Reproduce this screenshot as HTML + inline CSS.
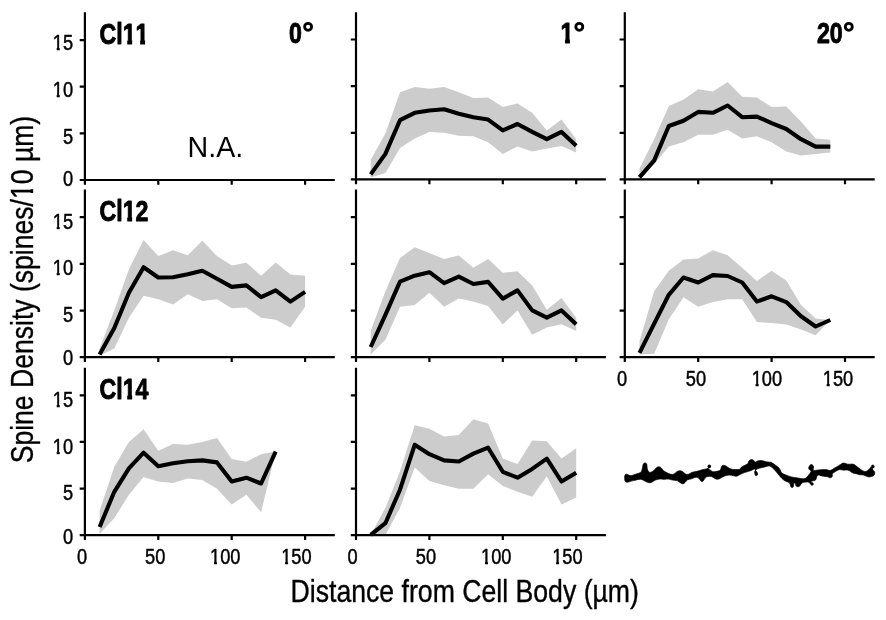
<!DOCTYPE html>
<html><head><meta charset="utf-8"><title>Spine density</title>
<style>
html,body{margin:0;padding:0;background:#fff;}
svg{display:block;}
text{font-family:"Liberation Sans",sans-serif;fill:#000;font-kerning:none;}
svg{will-change:transform;}
.ax{stroke:#000;stroke-width:2.2;fill:none;stroke-linecap:butt;}
.ln{stroke:#000;stroke-width:4.1;fill:none;stroke-linejoin:round;stroke-linecap:butt;}
.bd{fill:#cccccc;stroke:none;}
</style></head><body>
<svg width="886" height="620" viewBox="0 0 886 620">
<rect width="886" height="620" fill="#fff"/>
<defs><clipPath id="k0"><path d="M-2 -22.80H14.68V-2.75H8.60V1.05H4.88V-2.75H-2Z"/></clipPath><clipPath id="k1"><path d="M-2 -29.00H18.13V-4.21H11.80V1.25H5.72V-4.21H-2Z"/></clipPath><clipPath id="k2"><path d="M-2 -30.50H18.96V-3.25H11.14V0.98H6.89V-3.25H-2Z"/></clipPath></defs>

<polygon class="bd" points="370.7,159.8 385.4,133.4 400.0,92.3 414.7,87.0 429.4,88.8 444.1,87.0 458.8,92.3 473.4,98.1 488.1,97.6 502.8,107.0 517.5,103.4 532.2,112.8 546.8,130.4 561.5,119.6 576.2,139.2 576.2,152.4 561.5,146.0 546.8,148.6 532.2,151.6 517.5,146.6 502.8,153.9 488.1,142.2 473.4,136.3 458.8,135.7 444.1,132.8 429.4,131.9 414.7,138.6 400.0,148.0 385.4,173.0 370.7,177.4"/>
<polygon class="bd" points="639.5,168.6 654.2,139.2 668.8,106.1 683.5,99.6 698.2,89.3 712.9,91.4 727.6,82.0 742.2,96.7 756.9,97.6 771.6,107.0 786.3,106.4 801.0,121.6 815.6,138.6 830.3,139.8 830.3,152.4 815.6,153.9 801.0,155.4 786.3,151.6 771.6,142.2 756.9,136.3 742.2,138.6 727.6,129.8 712.9,134.8 698.2,134.8 683.5,142.2 668.8,146.6 654.2,164.2 639.5,178.8"/>
<polygon class="bd" points="99.6,348.5 114.3,310.4 128.9,269.3 143.6,239.9 158.3,256.1 173.0,250.2 187.7,255.2 202.3,240.8 217.0,256.1 231.7,265.5 246.4,262.8 261.1,275.7 275.7,262.5 290.4,274.6 305.1,275.7 305.1,306.8 290.4,327.4 275.7,319.8 261.1,317.7 246.4,307.4 231.7,308.3 217.0,299.2 202.3,301.0 187.7,294.2 173.0,304.5 158.3,299.2 143.6,295.7 128.9,317.7 114.3,348.5 99.6,355.8"/>
<polygon class="bd" points="370.7,330.9 385.4,291.3 400.0,258.1 414.7,247.3 429.4,253.1 444.1,259.0 458.8,255.5 473.4,267.8 488.1,259.0 502.8,272.8 517.5,271.3 532.2,285.4 546.8,309.8 561.5,298.0 576.2,317.7 576.2,330.9 561.5,324.2 546.8,327.4 532.2,334.7 517.5,310.4 502.8,324.4 488.1,306.0 473.4,301.6 458.8,298.6 444.1,306.8 429.4,292.8 414.7,305.1 400.0,306.8 385.4,339.7 370.7,354.4"/>
<polygon class="bd" points="639.5,341.2 654.2,291.3 668.8,270.7 683.5,259.6 698.2,258.4 712.9,250.2 727.6,255.2 742.2,267.8 756.9,281.0 771.6,270.7 786.3,280.4 801.0,305.1 815.6,318.6 830.3,320.0 830.3,320.0 815.6,335.3 801.0,329.4 786.3,324.4 771.6,323.0 756.9,322.1 742.2,299.2 727.6,299.2 712.9,302.1 698.2,306.8 683.5,297.2 668.8,319.2 654.2,353.8 639.5,354.4"/>
<polygon class="bd" points="99.6,510.8 114.3,466.8 128.9,441.9 143.6,429.3 158.3,450.7 173.0,443.9 187.7,444.8 202.3,441.9 217.0,438.1 231.7,458.9 246.4,461.8 261.1,454.2 275.7,451.6 275.7,451.6 261.1,512.3 246.4,494.7 231.7,504.4 217.0,488.8 202.3,480.0 187.7,478.6 173.0,483.0 158.3,481.5 143.6,477.1 128.9,494.7 114.3,518.2 99.6,533.7"/>
<polygon class="bd" points="370.7,534.9 385.4,507.9 400.0,471.2 414.7,425.2 429.4,428.7 444.1,436.6 458.8,435.1 473.4,419.3 488.1,423.4 502.8,458.6 517.5,463.9 532.2,440.4 546.8,441.3 561.5,458.6 576.2,448.3 576.2,497.6 561.5,504.4 546.8,476.2 532.2,496.8 517.5,491.8 502.8,485.9 488.1,474.2 473.4,488.8 458.8,488.8 444.1,485.3 429.4,480.9 414.7,467.4 400.0,507.9 385.4,534.9 370.7,534.9"/>
<polyline class="ln" points="370.7,174.4 385.4,153.9 400.0,120.2 414.7,112.8 429.4,110.5 444.1,109.3 458.8,113.7 473.4,117.2 488.1,119.6 502.8,130.4 517.5,124.0 532.2,131.9 546.8,139.2 561.5,131.9 576.2,145.7"/>
<polyline class="ln" points="639.5,177.4 654.2,160.4 668.8,126.0 683.5,120.7 698.2,111.9 712.9,112.8 727.6,105.5 742.2,117.2 756.9,116.6 771.6,123.1 786.3,129.0 801.0,139.2 815.6,146.6 830.3,146.6"/>
<polyline class="ln" points="99.6,354.4 114.3,328.0 128.9,292.8 143.6,267.2 158.3,277.5 173.0,277.2 187.7,274.3 202.3,270.7 217.0,278.7 231.7,286.9 246.4,285.4 261.1,297.2 275.7,290.4 290.4,301.6 305.1,291.9"/>
<polyline class="ln" points="370.7,347.0 385.4,314.8 400.0,281.6 414.7,275.7 429.4,272.2 444.1,283.1 458.8,276.6 473.4,284.0 488.1,281.9 502.8,298.6 517.5,290.4 532.2,310.4 546.8,317.7 561.5,310.4 576.2,324.2"/>
<polyline class="ln" points="639.5,352.9 654.2,323.6 668.8,294.8 683.5,277.5 698.2,282.5 712.9,275.1 727.6,276.0 742.2,282.5 756.9,301.6 771.6,296.3 786.3,302.1 801.0,316.2 815.6,326.5 830.3,320.0"/>
<polyline class="ln" points="99.6,527.0 114.3,491.8 128.9,468.3 143.6,452.7 158.3,466.2 173.0,463.3 187.7,461.2 202.3,460.4 217.0,462.4 231.7,481.5 246.4,477.7 261.1,483.5 275.7,451.6"/>
<polyline class="ln" points="370.7,534.9 385.4,523.2 400.0,489.7 414.7,444.8 429.4,454.2 444.1,460.4 458.8,461.5 473.4,453.6 488.1,447.7 502.8,471.8 517.5,477.7 532.2,468.9 546.8,458.6 561.5,481.5 576.2,472.7"/>
<path class="ax" d="M84.9 12.2V184.8M79.7 180.0H334.8M84.9 133.3h-5.2M84.9 86.7h-5.2M84.9 40.1h-5.2M158.3 180.0v4.8M231.7 180.0v4.8M305.1 180.0v4.8"/>
<path class="ax" d="M356.0 12.2V184.2M350.8 179.4H605.9M356.0 132.8h-5.2M356.0 86.1h-5.2M356.0 39.5h-5.2M429.4 179.4v4.8M502.8 179.4v4.8M576.2 179.4v4.8"/>
<path class="ax" d="M624.8 12.2V184.2M619.6 179.4H874.7M624.8 132.8h-5.2M624.8 86.1h-5.2M624.8 39.5h-5.2M698.2 179.4v4.8M771.6 179.4v4.8M845.0 179.4v4.8"/>
<path class="ax" d="M84.9 189.5V362.0M79.7 357.2H334.8M84.9 310.6h-5.2M84.9 263.9h-5.2M84.9 217.2h-5.2M158.3 357.2v4.8M231.7 357.2v4.8M305.1 357.2v4.8"/>
<path class="ax" d="M356.0 189.5V362.0M350.8 357.2H605.9M356.0 310.6h-5.2M356.0 263.9h-5.2M356.0 217.2h-5.2M429.4 357.2v4.8M502.8 357.2v4.8M576.2 357.2v4.8"/>
<path class="ax" d="M624.8 189.5V362.0M619.6 357.2H874.7M624.8 310.6h-5.2M624.8 263.9h-5.2M624.8 217.2h-5.2M698.2 357.2v4.8M771.6 357.2v4.8M845.0 357.2v4.8"/>
<path class="ax" d="M84.9 367.8V540.0M79.7 535.2H334.8M84.9 488.6h-5.2M84.9 441.9h-5.2M84.9 395.3h-5.2M158.3 535.2v4.8M231.7 535.2v4.8M305.1 535.2v4.8"/>
<path class="ax" d="M356.0 367.8V540.0M350.8 535.2H605.9M356.0 488.6h-5.2M356.0 441.9h-5.2M356.0 395.3h-5.2M429.4 535.2v4.8M502.8 535.2v4.8M576.2 535.2v4.8"/>
<g transform="translate(73.10 186.40) scale(0.800 1)" font-size="22.80" font-weight="normal" stroke="#000" stroke-width="0.50" stroke-linejoin="round"><text x="-12.68" y="0">0</text></g>
<g transform="translate(73.10 143.55) scale(0.800 1)" font-size="22.80" font-weight="normal" stroke="#000" stroke-width="0.50" stroke-linejoin="round"><text x="-12.68" y="0">5</text></g>
<g transform="translate(73.10 96.90) scale(0.800 1)" font-size="22.80" font-weight="normal" stroke="#000" stroke-width="0.50" stroke-linejoin="round"><text transform="translate(-25.36 0)" clip-path="url(#k0)">1</text><text x="-12.68" y="0">0</text></g>
<g transform="translate(73.10 50.25) scale(0.800 1)" font-size="22.80" font-weight="normal" stroke="#000" stroke-width="0.50" stroke-linejoin="round"><text transform="translate(-25.36 0)" clip-path="url(#k0)">1</text><text x="-12.68" y="0">5</text></g>
<g transform="translate(73.10 364.80) scale(0.800 1)" font-size="22.80" font-weight="normal" stroke="#000" stroke-width="0.50" stroke-linejoin="round"><text x="-12.68" y="0">0</text></g>
<g transform="translate(73.10 321.95) scale(0.800 1)" font-size="22.80" font-weight="normal" stroke="#000" stroke-width="0.50" stroke-linejoin="round"><text x="-12.68" y="0">5</text></g>
<g transform="translate(73.10 275.30) scale(0.800 1)" font-size="22.80" font-weight="normal" stroke="#000" stroke-width="0.50" stroke-linejoin="round"><text transform="translate(-25.36 0)" clip-path="url(#k0)">1</text><text x="-12.68" y="0">0</text></g>
<g transform="translate(73.10 228.65) scale(0.800 1)" font-size="22.80" font-weight="normal" stroke="#000" stroke-width="0.50" stroke-linejoin="round"><text transform="translate(-25.36 0)" clip-path="url(#k0)">1</text><text x="-12.68" y="0">5</text></g>
<g transform="translate(73.10 543.50) scale(0.800 1)" font-size="22.80" font-weight="normal" stroke="#000" stroke-width="0.50" stroke-linejoin="round"><text x="-12.68" y="0">0</text></g>
<g transform="translate(73.10 500.45) scale(0.800 1)" font-size="22.80" font-weight="normal" stroke="#000" stroke-width="0.50" stroke-linejoin="round"><text x="-12.68" y="0">5</text></g>
<g transform="translate(73.10 453.80) scale(0.800 1)" font-size="22.80" font-weight="normal" stroke="#000" stroke-width="0.50" stroke-linejoin="round"><text transform="translate(-25.36 0)" clip-path="url(#k0)">1</text><text x="-12.68" y="0">0</text></g>
<g transform="translate(73.10 407.15) scale(0.800 1)" font-size="22.80" font-weight="normal" stroke="#000" stroke-width="0.50" stroke-linejoin="round"><text transform="translate(-25.36 0)" clip-path="url(#k0)">1</text><text x="-12.68" y="0">5</text></g>
<g transform="translate(77.00 564.20) scale(0.800 1)" font-size="22.80" font-weight="normal" stroke="#000" stroke-width="0.50" stroke-linejoin="round"><text x="0.00" y="0">0</text></g>
<g transform="translate(145.10 564.20) scale(0.800 1)" font-size="22.80" font-weight="normal" stroke="#000" stroke-width="0.50" stroke-linejoin="round"><text x="0.00" y="0">50</text></g>
<g transform="translate(210.10 564.20) scale(0.800 1)" font-size="22.80" font-weight="normal" stroke="#000" stroke-width="0.50" stroke-linejoin="round"><text transform="translate(0.00 0)" clip-path="url(#k0)">1</text><text x="12.68" y="0">00</text></g>
<g transform="translate(281.20 564.20) scale(0.800 1)" font-size="22.80" font-weight="normal" stroke="#000" stroke-width="0.50" stroke-linejoin="round"><text transform="translate(0.00 0)" clip-path="url(#k0)">1</text><text x="12.68" y="0">50</text></g>
<g transform="translate(347.60 564.20) scale(0.800 1)" font-size="22.80" font-weight="normal" stroke="#000" stroke-width="0.50" stroke-linejoin="round"><text x="0.00" y="0">0</text></g>
<g transform="translate(415.80 564.20) scale(0.800 1)" font-size="22.80" font-weight="normal" stroke="#000" stroke-width="0.50" stroke-linejoin="round"><text x="0.00" y="0">50</text></g>
<g transform="translate(481.10 564.20) scale(0.800 1)" font-size="22.80" font-weight="normal" stroke="#000" stroke-width="0.50" stroke-linejoin="round"><text transform="translate(0.00 0)" clip-path="url(#k0)">1</text><text x="12.68" y="0">00</text></g>
<g transform="translate(552.20 564.20) scale(0.800 1)" font-size="22.80" font-weight="normal" stroke="#000" stroke-width="0.50" stroke-linejoin="round"><text transform="translate(0.00 0)" clip-path="url(#k0)">1</text><text x="12.68" y="0">50</text></g>
<g transform="translate(617.00 386.20) scale(0.800 1)" font-size="22.80" font-weight="normal" stroke="#000" stroke-width="0.50" stroke-linejoin="round"><text x="0.00" y="0">0</text></g>
<g transform="translate(685.80 386.20) scale(0.800 1)" font-size="22.80" font-weight="normal" stroke="#000" stroke-width="0.50" stroke-linejoin="round"><text x="0.00" y="0">50</text></g>
<g transform="translate(751.70 386.20) scale(0.800 1)" font-size="22.80" font-weight="normal" stroke="#000" stroke-width="0.50" stroke-linejoin="round"><text transform="translate(0.00 0)" clip-path="url(#k0)">1</text><text x="12.68" y="0">00</text></g>
<g transform="translate(822.80 386.20) scale(0.800 1)" font-size="22.80" font-weight="normal" stroke="#000" stroke-width="0.50" stroke-linejoin="round"><text transform="translate(0.00 0)" clip-path="url(#k0)">1</text><text x="12.68" y="0">50</text></g>
<g transform="translate(99.50 43.70) scale(0.800 1)" font-size="29.00" font-weight="bold" stroke="#000" stroke-width="0.90" stroke-linejoin="round"><text x="0.00" y="0">Cl</text><text transform="translate(29.00 0)" clip-path="url(#k1)">1</text><text transform="translate(45.13 0)" clip-path="url(#k1)">1</text></g>
<g transform="translate(99.50 220.80) scale(0.800 1)" font-size="29.00" font-weight="bold" stroke="#000" stroke-width="0.90" stroke-linejoin="round"><text x="0.00" y="0">Cl</text><text transform="translate(29.00 0)" clip-path="url(#k1)">1</text><text x="45.13" y="0">2</text></g>
<g transform="translate(99.50 399.20) scale(0.800 1)" font-size="29.00" font-weight="bold" stroke="#000" stroke-width="0.90" stroke-linejoin="round"><text x="0.00" y="0">Cl</text><text transform="translate(29.00 0)" clip-path="url(#k1)">1</text><text x="45.13" y="0">4</text></g>
<g transform="translate(302.00 43.20) scale(0.800 1)" font-size="29.00" font-weight="bold" stroke="#000" stroke-width="0.90" stroke-linejoin="round"><text x="-16.13" y="0">0</text></g>
<g transform="translate(573.40 43.20) scale(0.800 1)" font-size="29.00" font-weight="bold" stroke="#000" stroke-width="0.90" stroke-linejoin="round"><text transform="translate(-16.13 0)" clip-path="url(#k1)">1</text></g>
<g transform="translate(842.70 43.20) scale(0.800 1)" font-size="29.00" font-weight="bold" stroke="#000" stroke-width="0.90" stroke-linejoin="round"><text x="-32.26" y="0">20</text></g>
<circle cx="308.1" cy="26.8" r="3.5" fill="none" stroke="#000" stroke-width="2.8"/>
<circle cx="579.3" cy="26.8" r="3.5" fill="none" stroke="#000" stroke-width="2.8"/>
<circle cx="848.8" cy="26.8" r="3.5" fill="none" stroke="#000" stroke-width="2.8"/>
<text transform="translate(187.6 156.8) scale(0.955 1)" font-size="30" stroke="none">N.A.</text>
<g transform="translate(290.50 601.80) scale(0.874 1)" font-size="30.50" font-weight="normal" stroke="#000" stroke-width="0.35" stroke-linejoin="round"><text x="0.00" y="0">Distance from Cell Body (µm)</text></g>
<g transform="translate(33.30 463.30) rotate(-90) scale(0.871 1)" font-size="30.50" font-weight="normal" stroke="#000" stroke-width="0.35" stroke-linejoin="round"><text x="0.00" y="0">Spine Density (spines/</text><text transform="translate(303.45 0)" clip-path="url(#k2)">1</text><text x="320.41" y="0">0 µm)</text></g>
<path d="M624.6 477.7Q624.6 474.0 626.1 474.2Q627.6 474.4 629.2 475.3Q630.8 476.3 633.2 475.1Q635.5 474.0 638.3 473.4Q641.1 472.8 641.7 471.0Q642.3 469.2 642.7 466.5Q643.0 463.7 644.0 463.2Q645.0 462.7 646.0 463.2Q647.0 463.7 647.0 466.1Q647.0 468.4 647.6 470.0Q648.2 471.6 649.4 472.2Q650.6 472.8 652.5 471.6Q654.5 470.4 655.3 469.0Q656.1 467.6 657.7 467.0Q659.2 466.5 660.4 467.2Q661.6 468.0 662.4 469.4Q663.2 470.8 665.2 471.8Q667.1 472.8 668.7 473.6Q670.3 474.4 672.3 474.4Q674.3 474.4 675.4 473.0Q676.6 471.6 678.2 471.0Q679.8 470.4 681.4 471.0Q682.9 471.6 684.0 472.8Q685.0 474.0 686.6 474.4Q688.2 474.8 690.1 473.4Q692.1 472.0 694.5 471.8Q696.9 471.6 699.6 470.6Q702.4 469.6 704.4 469.3Q706.3 469.1 707.1 468.5Q707.9 468.0 709.5 469.4Q711.1 470.8 712.3 471.4Q713.4 472.0 715.8 471.6Q718.2 471.2 719.6 470.6Q720.9 470.0 721.1 468.0Q721.3 466.1 722.5 465.5Q723.7 464.9 725.3 465.7Q726.9 466.5 728.5 467.8Q730.0 469.2 732.8 469.4Q735.6 469.6 737.9 469.6Q740.3 469.6 740.7 468.2Q741.1 466.9 743.5 465.9Q745.8 464.9 747.0 464.3Q748.2 463.7 748.4 462.3Q748.6 460.9 750.0 460.0Q751.4 459.1 752.7 459.8Q754.1 460.5 754.6 461.5Q755.0 462.5 756.6 461.5Q758.2 460.5 760.1 460.5Q762.1 460.4 764.1 461.2Q766.1 462.1 768.4 462.0Q770.8 462.0 772.4 463.0Q774.0 464.1 775.9 465.5Q777.9 466.9 779.1 468.2Q780.3 469.6 780.7 471.2Q781.1 472.8 783.0 473.8Q785.0 474.8 788.2 475.9Q791.3 477.1 794.5 477.5Q797.7 477.9 800.8 478.5Q804.0 479.1 805.2 478.5Q806.4 477.9 808.3 475.5Q810.3 473.2 810.9 472.0Q811.5 470.8 810.5 470.4Q809.5 470.0 808.9 469.0Q808.3 468.0 809.3 466.3Q810.3 464.5 811.1 464.4Q811.9 464.3 812.9 465.4Q813.9 466.5 813.3 468.4Q812.7 470.4 813.9 470.4Q815.0 470.4 816.6 470.2Q818.2 470.0 820.2 469.8Q822.2 469.6 824.6 469.5Q827.1 469.5 828.6 470.3Q830.2 471.2 832.2 469.6Q834.2 468.0 836.5 466.9Q838.9 465.7 840.5 464.5Q842.1 463.3 843.3 463.1Q844.4 462.9 846.0 463.7Q847.6 464.5 850.4 464.2Q853.1 463.8 854.3 464.6Q855.5 465.3 857.1 466.7Q858.7 468.0 860.6 469.4Q862.6 470.8 864.2 471.4Q865.8 472.0 867.4 470.8Q868.9 469.6 870.1 468.2Q871.3 466.9 871.5 466.1Q871.7 465.3 872.5 465.1Q873.3 464.9 874.0 465.7Q874.6 466.5 874.1 467.2Q873.7 468.0 872.9 468.2Q872.1 468.4 872.7 469.4Q873.3 470.4 874.1 471.2Q874.9 472.0 874.7 473.4Q874.6 474.8 873.8 475.5Q872.9 476.2 871.3 476.6Q869.7 477.1 868.1 476.8Q866.6 476.5 865.0 475.6Q863.4 474.8 861.4 474.8Q859.5 474.9 857.9 474.2Q856.3 473.6 854.7 473.4Q853.1 473.2 851.9 472.4Q850.8 471.6 849.2 470.6Q847.6 469.6 845.6 470.0Q843.7 470.4 841.7 469.8Q839.7 469.2 837.7 470.2Q835.8 471.2 833.8 472.6Q831.8 474.0 832.2 474.8Q832.6 475.5 832.2 476.5Q831.8 477.5 830.6 477.7Q829.4 477.9 828.6 477.3Q827.9 476.7 826.3 476.6Q824.7 476.5 823.5 476.2Q822.3 475.9 820.3 475.3Q818.4 474.8 821.1 475.5Q823.7 476.3 822.6 475.7Q821.4 475.1 819.4 474.9Q817.4 474.8 817.0 475.9Q816.6 477.1 816.2 478.7Q815.8 480.3 814.7 480.5Q813.5 480.7 811.9 481.1Q810.3 481.5 811.7 482.3Q813.1 483.0 813.3 483.8Q813.5 484.6 812.7 485.1Q811.9 485.7 811.1 484.7Q810.3 483.8 809.5 482.8Q808.7 481.9 807.1 481.9Q805.6 481.9 803.6 482.3Q801.6 482.7 800.8 484.4Q800.0 486.2 798.8 486.6Q797.7 487.0 796.7 486.4Q795.7 485.8 795.5 484.2Q795.3 482.7 794.5 482.7Q793.7 482.7 793.7 484.6Q793.7 486.6 792.9 487.2Q792.1 487.8 791.3 487.2Q790.6 486.6 790.2 484.4Q789.8 482.3 787.8 481.9Q785.8 481.5 783.8 480.1Q781.9 478.7 780.3 476.7Q778.7 474.8 777.1 472.8Q775.5 470.8 774.0 469.2Q772.4 467.6 770.8 466.5Q769.2 465.3 766.9 466.3Q764.5 467.2 762.1 467.6Q759.7 468.0 757.4 468.8Q755.0 469.6 754.8 471.4Q754.6 473.2 755.0 474.4Q755.4 475.7 756.4 475.6Q757.4 475.5 757.6 474.4Q757.8 473.2 756.8 472.0Q755.8 470.8 755.4 469.8Q755.0 468.8 754.4 469.0Q753.7 469.2 752.2 470.0Q750.6 470.8 747.8 471.6Q745.0 472.4 742.7 473.2Q740.3 474.0 738.7 475.2Q737.1 476.5 735.6 476.2Q734.0 475.9 731.6 475.3Q729.2 474.8 726.9 475.3Q724.5 475.9 722.5 477.1Q720.6 478.3 719.0 478.9Q717.4 479.5 715.8 478.9Q714.2 478.3 713.0 477.3Q711.9 476.3 709.1 476.3Q706.3 476.3 705.1 478.1Q704.0 479.9 703.2 480.9Q702.4 481.9 701.6 481.5Q700.8 481.1 699.6 479.3Q698.4 477.5 696.9 477.3Q695.3 477.1 693.3 478.1Q691.3 479.1 689.3 479.3Q687.4 479.5 686.2 481.1Q685.0 482.7 684.0 483.4Q682.9 484.1 681.8 483.6Q680.6 483.0 679.0 481.7Q677.4 480.3 675.0 480.3Q672.7 480.3 670.7 479.5Q668.7 478.7 666.4 479.1Q664.0 479.5 661.6 479.1Q659.2 478.7 656.9 479.5Q654.5 480.3 653.3 481.3Q652.1 482.3 650.6 482.7Q649.0 483.0 647.0 482.1Q645.0 481.1 643.0 479.9Q641.1 478.7 638.3 479.4Q635.5 480.1 633.2 480.6Q630.8 481.1 629.2 481.8Q627.6 482.5 626.1 482.0Q624.6 481.5 624.6 477.7Z" fill="#000" stroke="#000" stroke-width="0.7" stroke-linejoin="round"/>
<circle cx="709.3" cy="466.4" r="1.8" fill="#000"/>
</svg></body></html>
